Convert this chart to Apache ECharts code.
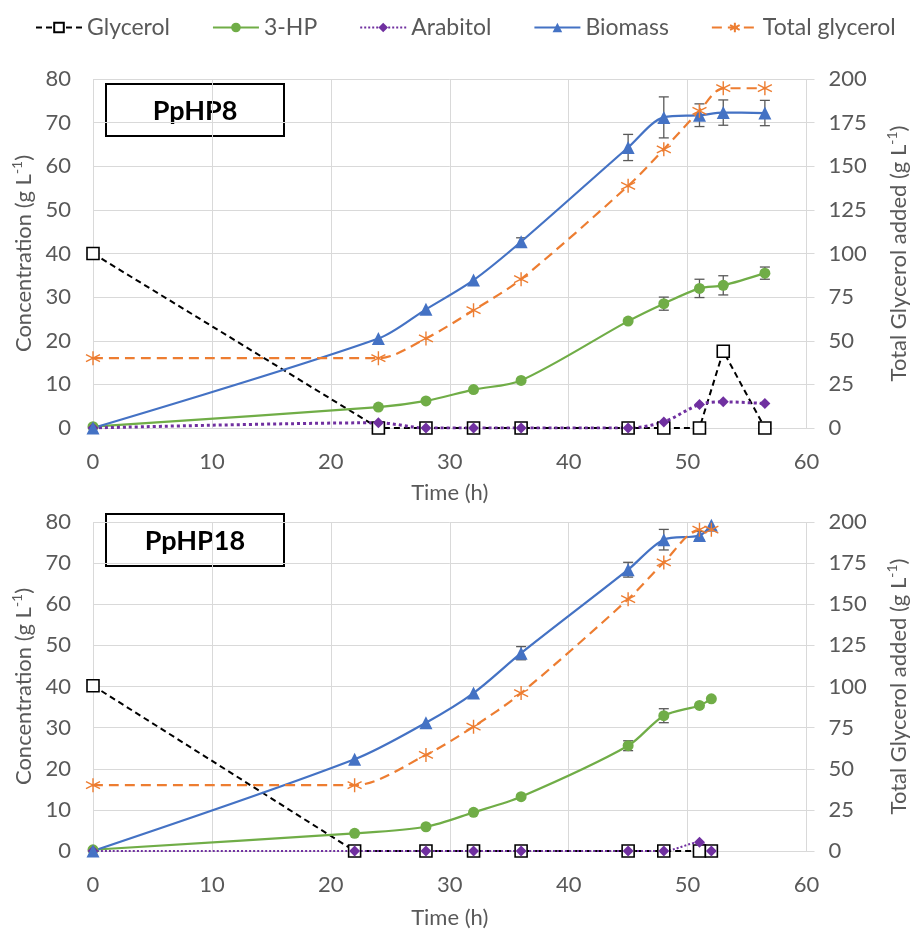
<!DOCTYPE html>
<html>
<head>
<meta charset="utf-8">
<script src="https://cdn.jsdelivr.net/npm/echarts@6/dist/echarts.min.js"></script>
<style>
  html, body { margin: 0; padding: 0; background: #fff; }
  #main { width: 918px; height: 931px; }
</style>
</head>
<body>
<div id="main"></div>
<script>
// PpHP8 run
var hoursA = [0, 24, 28, 32, 36, 45, 48, 51, 53, 56.5];
var glycerolA = [40, 0, 0, 0, 0, 0, 0, 0, 17.6, 0];
var hpA = [0.3, 4.8, 6.2, 8.8, 10.9, 24.5, 28.5, 32, 32.7, 35.5];
var arabitolA = [0, 1.2, 0, 0, 0, 0, 1.4, 5.4, 6.0, 5.6];
var biomassA = [0, 20.5, 27.2, 33.9, 42.7, 64.3, 71.2, 71.7, 72.3, 72.2];
var totalA = [40, 40, 51.3, 67.5, 85.3, 138.8, 159.7, 181.8, 194.7, 194.7];
var hpErrA = [0, 0, 0, 0, 0, 0, 1.5, 2.1, 2.2, 1.4];
var biomassErrA = [0, 0, 0, 0, 0.9, 3, 4.7, 2.6, 2.9, 2.9];

// PpHP18 run
var hoursB = [0, 22, 28, 32, 36, 45, 48, 51, 52];
var glycerolB = [40.2, 0, 0, 0, 0, 0, 0, 0, 0];
var hpB = [0.3, 4.3, 5.9, 9.4, 13.2, 25.6, 32.9, 35.4, 37.0];
var arabitolB = [0, 0, 0, 0, 0, 0, 0, 2.1, 0];
var biomassB = [0, 22.3, 31.2, 38.4, 48.1, 68.4, 75.7, 76.7, 79.2];
var totalB = [40, 40, 58.4, 75.6, 96, 153.1, 175.4, 195.3, 195.3];
var hpErrB = [0, 0, 0, 0, 0, 1.2, 1.7, 0, 0];
var biomassErrB = [0, 0, 0, 0, 1.6, 1.8, 2.5, 1, 0];

var seriesNames = ['Glycerol', '3-HP', 'Arabitol', 'Biomass', 'Total glycerol'];
var panelTitles = ['PpHP8', 'PpHP18'];
var leftTicks = [0, 80, 10];
var rightTicks = [0, 200, 25];

var FONT = 'Lato, "Open Sans", sans-serif';
var GREY = '#595959';
var GRID = '#d9d9d9';
var C = { gly: '#000000', hp: '#70AD47', ara: '#7030A0', bio: '#4472C4', tot: '#ED7D31' };
var STAR = 'path://M0,-10L0,10M-8.66,-5L8.66,5M-8.66,5L8.66,-5';

function pairs(xs, ys) {
  return xs.map(function (x, i) { return [x, ys[i]]; });
}
function errPairs(xs, ys, es) {
  var out = [];
  xs.forEach(function (x, i) {
    if (es[i] > 0) out.push([x, ys[i] - es[i], ys[i] + es[i]]);
  });
  return out;
}

function errItem(params, api) {
  var x = api.value(0);
  var top = api.coord([x, api.value(2)]);
  var bot = api.coord([x, api.value(1)]);
  var hw = 5;
  var st = { stroke: '#595959', lineWidth: 1.3 };
  return {
    type: 'group',
    children: [
      { type: 'line', shape: { x1: top[0], y1: top[1], x2: bot[0], y2: bot[1] }, style: st },
      { type: 'line', shape: { x1: top[0] - hw, y1: top[1], x2: top[0] + hw, y2: top[1] }, style: st },
      { type: 'line', shape: { x1: bot[0] - hw, y1: bot[1], x2: bot[0] + hw, y2: bot[1] }, style: st }
    ]
  };
}

var axisName = function (txt) { return '{n|' + txt + ' (g L}{s|-1}{n|)}'; };
var nameRich = {
  n: { fontSize: 22, color: GREY, fontFamily: FONT, lineHeight: 27 },
  s: { fontSize: 14, color: GREY, fontFamily: FONT, lineHeight: 14, verticalAlign: 'top' }
};

function xAxisFor(gi, gap) {
  return {
    type: 'value', gridIndex: gi, min: 0, max: 60, interval: 10,
    name: 'Time (h)', nameLocation: 'middle', nameGap: gap,
    nameTextStyle: { fontSize: 22, color: GREY, fontFamily: FONT },
    axisLine: { show: true, lineStyle: { color: GRID, width: 1 } },
    axisTick: { show: false },
    axisLabel: { fontSize: 22, color: GREY, fontFamily: FONT, margin: 23 },
    splitLine: { show: true, lineStyle: { color: GRID, width: 1 } }
  };
}
function leftAxis(gi) {
  return {
    type: 'value', gridIndex: gi, position: 'left',
    min: leftTicks[0], max: leftTicks[1], interval: leftTicks[2],
    name: axisName('Concentration'), nameLocation: 'middle', nameGap: 55, nameRotate: 90,
    nameTextStyle: { rich: nameRich },
    axisLine: { show: false }, axisTick: { show: false },
    axisLabel: { fontSize: 22, color: GREY, fontFamily: FONT, margin: 22 },
    splitLine: { show: true, lineStyle: { color: GRID, width: 1 } }
  };
}
function rightAxis(gi) {
  return {
    type: 'value', gridIndex: gi, position: 'right',
    min: rightTicks[0], max: rightTicks[1], interval: rightTicks[2],
    name: axisName('Total Glycerol added'), nameLocation: 'middle', nameGap: 79, nameRotate: 90,
    nameTextStyle: { rich: nameRich },
    axisLine: { show: false },
    axisTick: { show: true, inside: false, length: 8, lineStyle: { color: GRID, width: 1 } },
    axisLabel: { fontSize: 22, color: GREY, fontFamily: FONT, margin: 22 },
    splitLine: { show: false }
  };
}

function panelSeries(gi, hours, gly, hp, ara, bio, tot, hpErr, bioErr, araWidth) {
  var lx = gi, ly = gi * 2, ry = gi * 2 + 1;
  return [
    { type: 'custom', name: 'hpErr' + gi, xAxisIndex: lx, yAxisIndex: ly, renderItem: errItem,
      encode: { x: 0, y: [1, 2] }, data: errPairs(hours, hp, hpErr), silent: true },
    { type: 'custom', name: 'bioErr' + gi, xAxisIndex: lx, yAxisIndex: ly, renderItem: errItem,
      encode: { x: 0, y: [1, 2] }, data: errPairs(hours, bio, bioErr), silent: true },
    { type: 'line', name: seriesNames[0], xAxisIndex: lx, yAxisIndex: ly, data: pairs(hours, gly),
      smooth: false, symbol: 'rect', symbolSize: 12, showAllSymbol: true,
      lineStyle: { color: C.gly, width: 2, type: [6, 4] },
      itemStyle: { color: '#fff', borderColor: C.gly, borderWidth: 1.6 } },
    { type: 'line', name: seriesNames[1], xAxisIndex: lx, yAxisIndex: ly, data: pairs(hours, hp),
      smooth: 0.3, symbol: 'circle', symbolSize: 11,
      lineStyle: { color: C.hp, width: 2.2 },
      itemStyle: { color: C.hp, borderWidth: 0 } },
    { type: 'line', name: seriesNames[2], xAxisIndex: lx, yAxisIndex: ly, data: pairs(hours, ara),
      smooth: 0.3, symbol: 'diamond', symbolSize: 11,
      lineStyle: { color: C.ara, width: araWidth, type: 'dotted' },
      itemStyle: { color: C.ara, borderWidth: 0 } },
    { type: 'line', name: seriesNames[3], xAxisIndex: lx, yAxisIndex: ly, data: pairs(hours, bio),
      smooth: 0.3, symbol: 'triangle', symbolSize: 13,
      lineStyle: { color: C.bio, width: 2.2 },
      itemStyle: { color: C.bio, borderWidth: 0 } },
    { type: 'line', name: seriesNames[4], xAxisIndex: lx, yAxisIndex: ry, data: pairs(hours, tot),
      smooth: 0.3, symbol: STAR, symbolSize: 14,
      lineStyle: { color: C.tot, width: 2.2, type: [10, 6] },
      itemStyle: { color: C.tot, borderColor: C.tot, borderWidth: 1.4 } }
  ];
}

function titleBox(label, top) {
  return {
    type: 'group', left: 105, top: top, z: 100,
    children: [
      { type: 'rect', shape: { x: 0, y: 0, width: 178, height: 52 },
        style: { fill: '#fff', stroke: '#000', lineWidth: 2 } },
      { type: 'text', x: 89, y: 27,
        style: { text: label, fontSize: 27, fontWeight: 'bold', fontFamily: FONT, fill: '#000',
                 align: 'center', verticalAlign: 'middle', textAlign: 'center', textVerticalAlign: 'middle' } }
    ]
  };
}

var chart = echarts.init(document.getElementById('main'), null, { renderer: 'canvas' });
var option = {
  animation: false,
  backgroundColor: '#fff',
  legend: {
    data: seriesNames, left: 35, top: 16, width: 883, padding: 0,
    itemWidth: 46, itemHeight: 12, itemGap: 42,
    textStyle: { fontSize: 23, color: GREY, fontFamily: FONT }
  },
  grid: [
    { left: 93, top: 79, width: 722, height: 349 },
    { left: 93, top: 522, width: 727, height: 329 }
  ],
  xAxis: [xAxisFor(0, 54), xAxisFor(1, 56)],
  yAxis: [leftAxis(0), rightAxis(0), leftAxis(1), rightAxis(1)],
  graphic: [titleBox(panelTitles[0], 83), titleBox(panelTitles[1], 513)],
  series: [].concat(
    panelSeries(0, hoursA, glycerolA, hpA, arabitolA, biomassA, totalA, hpErrA, biomassErrA, 3),
    panelSeries(1, hoursB, glycerolB, hpB, arabitolB, biomassB, totalB, hpErrB, biomassErrB, 2)
  )
};
chart.setOption(option);
</script>
</body>
</html>
